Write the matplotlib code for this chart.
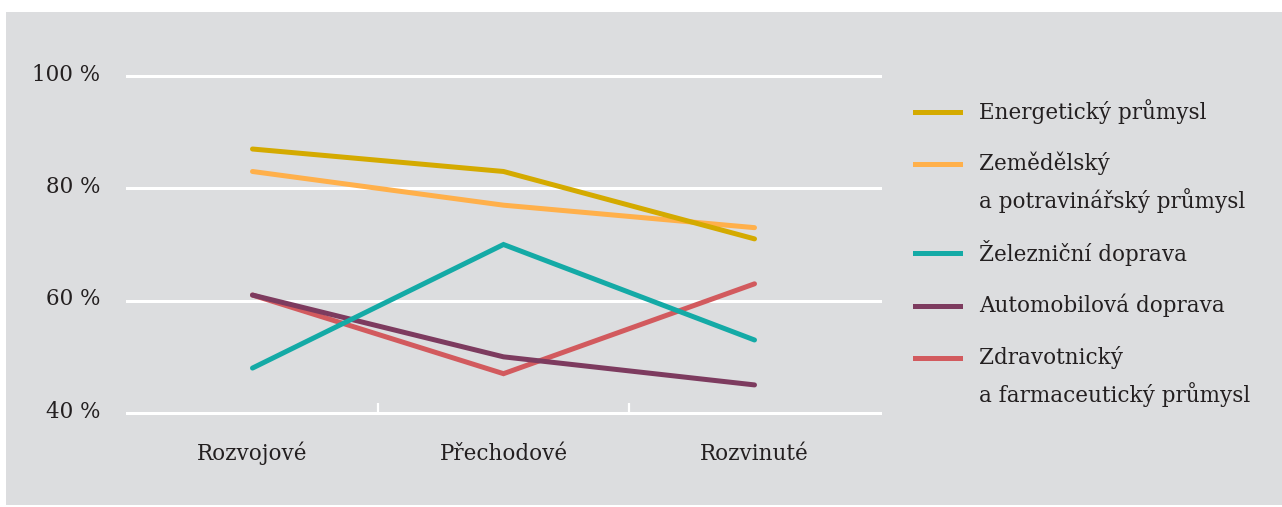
import matplotlib.pyplot as plt
import matplotlib.transforms as mtransforms
from matplotlib.patches import Rectangle
from matplotlib.lines import Line2D

# categories on the x axis
stages = ['Rozvojové', 'Přechodové', 'Rozvinuté']

# series values (percent)
energeticky = [87, 83, 71]
zemedelsky = [83, 77, 73]
zeleznicni = [48, 70, 53]
automobilova = [61, 50, 45]
zdravotnicky = [61, 47, 63]

names = ['Energetický průmysl',
         'Zemědělský\na potravinářský průmysl',
         'Železniční doprava',
         'Automobilová doprava',
         'Zdravotnický\na farmaceutický průmysl']
series = [energeticky, zemedelsky, zeleznicni, automobilova, zdravotnicky]
colors = ['#d4aa00', '#ffb04b', '#14aaa6', '#7d3b5f', '#d25a5e']

yticks = [40, 60, 80, 100]
ytick_labels = ['40 %', '60 %', '80 %', '100 %']

plt.rcParams['font.family'] = ['DejaVu Serif']
text_color = '#231f20'
bg = '#dcdddf'

W, H = 1282, 507
fig = plt.figure(figsize=(W / 100, H / 100), dpi=100)
fig.patch.set_facecolor('white')
fig.add_artist(Rectangle((6 / W, 2 / H), (W - 6) / W, (H - 14) / H,
                         transform=fig.transFigure, facecolor=bg,
                         edgecolor='none', zorder=0))

ax = fig.add_axes([127 / W, (H - 413) / H, (880 - 127) / W, (413 - 76) / H])
ax.set_facecolor('none')
for s in ax.spines.values():
    s.set_visible(False)

x = list(range(len(stages)))
# draw in reverse so the first series sits on top
for vals, c in reversed(list(zip(series, colors))):
    ax.plot(x, vals, color=c, lw=3.6, solid_capstyle='round',
            solid_joinstyle='miter', clip_on=False, zorder=3)

ax.set_xlim(-0.5, 2.5)
ax.set_ylim(40, 100)
ax.set_yticks(yticks)
ax.set_yticklabels(ytick_labels)
ax.grid(axis='y', color='white', lw=2.2)
for gl in ax.get_ygridlines():
    gl.set_clip_on(False)
ax.set_axisbelow(True)
ax.tick_params(axis='y', length=0, pad=19, labelsize=15.5, labelcolor=text_color)
# lift the y labels a little above their gridlines
lift = mtransforms.ScaledTranslation(0, 4 / 100, fig.dpi_scale_trans)
for lbl in ax.get_yticklabels():
    lbl.set_transform(lbl.get_transform() + lift)

ax.set_xticks(x)
ax.set_xticklabels(stages)
ax.set_xticks([0.5, 1.5], minor=True)
ax.tick_params(axis='x', which='major', length=0, pad=34, labelsize=15.5,
               labelcolor=text_color)
for lbl in ax.get_xticklabels():
    lbl.set_va('baseline')
ax.tick_params(axis='x', which='minor', direction='in', length=7, width=1.6,
               color='white')

# legend drawn by hand so the swatch lines up with the first text line
legend_y = [112, 164, 253, 306, 358]
line_gap = 37
for name, c, yy in zip(names, colors, legend_y):
    fy = (H - yy) / H
    fig.add_artist(Line2D([915 / W, 960 / W], [fy, fy], color=c, lw=3.6,
                          transform=fig.transFigure))
    for i, part in enumerate(name.split('\n')):
        fig.text(979 / W, (H - yy + 3 - i * line_gap) / H, part, fontsize=15.5,
                 color=text_color, va='center_baseline',
                 transform=fig.transFigure)

fig.savefig('out.png', dpi=100, facecolor='white')
